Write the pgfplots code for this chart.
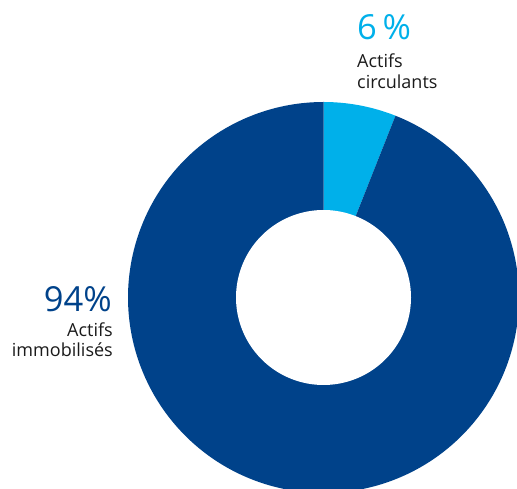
\documentclass[border=0pt]{standalone}
\usepackage{pgfplots}
\pgfplotsset{compat=1.18}
\usepackage{fontspec}
\setmainfont{Open Sans}
\definecolor{darkblue}{HTML}{00428A}
\definecolor{lightblue}{HTML}{00B0EA}
\definecolor{labeltext}{HTML}{1A1A1A}
\begin{document}
\begin{tikzpicture}
\useasboundingbox (0,0) rectangle (517pt,489pt);
\begin{axis}[
    at={(0,0)}, anchor=south west,
    scale only axis,
    width=517pt, height=489pt,
    xmin=0, xmax=517, ymin=0, ymax=489,
    hide axis,
    clip=true,
]
% share in percent: 6 (actifs circulants), 94 (actifs immobilises)
\addplot[draw=none, fill=lightblue, domain=0:6, samples=40, variable=\t]
    ({323.5+195.5*cos(90-3.6*\t)}, {191.5+195.5*sin(90-3.6*\t)})
    -- (axis cs:323.5,191.5) -- cycle;
\addplot[draw=none, fill=darkblue, domain=6:100, samples=300, variable=\t]
    ({323.5+195.5*cos(90-3.6*\t)}, {191.5+195.5*sin(90-3.6*\t)})
    -- (axis cs:323.5,191.5) -- cycle;
% hole
\addplot[draw=none, fill=white, domain=0:100, samples=200, variable=\t]
    ({323.5+87.5*cos(3.6*\t)}, {191.5+87.5*sin(3.6*\t)}) -- cycle;

\node[anchor=base west, inner sep=0, text=lightblue, font=\fontsize{34.5}{34.5}\selectfont] at (axis cs:357,449) {6\,\%};
\node[anchor=base west, inner sep=0, text=labeltext, font=\fontsize{18}{21}\selectfont] at (axis cs:357,421) {Actifs};
\node[anchor=base west, inner sep=0, text=labeltext, font=\fontsize{18}{21}\selectfont] at (axis cs:357,400) {circulants};

\node[anchor=base east, inner sep=0, text=darkblue, font=\fontsize{34.5}{34.5}\selectfont] at (axis cs:112,177) {94\%};
\node[anchor=base east, inner sep=0, text=labeltext, font=\fontsize{18}{21}\selectfont] at (axis cs:113,152) {Actifs};
\node[anchor=base east, inner sep=0, text=labeltext, font=\fontsize{18}{21}\selectfont] at (axis cs:113,132) {immobilisés};
\end{axis}
\end{tikzpicture}
\end{document}
